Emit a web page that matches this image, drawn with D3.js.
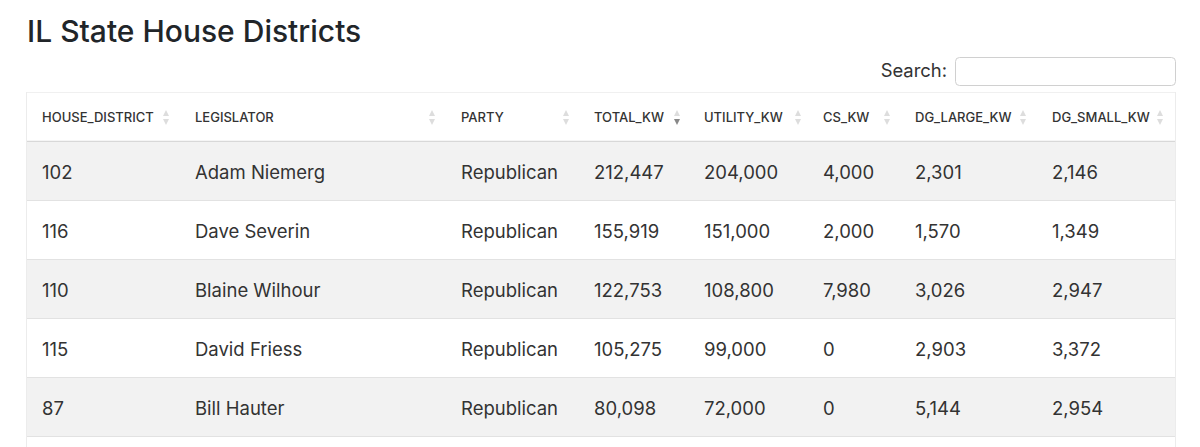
<!DOCTYPE html>
<html><head><meta charset="utf-8">
<script src="https://cdn.jsdelivr.net/npm/d3@7"></script>
<style>
html,body{margin:0;padding:0;background:#fff;}
svg{display:block;font-family:Inter,"Open Sans",sans-serif;}
</style></head>
<body>
<svg id="c" width="1200" height="447"></svg>
<script>
const columns = ["HOUSE_DISTRICT","LEGISLATOR","PARTY","TOTAL_KW","UTILITY_KW","CS_KW","DG_LARGE_KW","DG_SMALL_KW"];
const districts = [102,116,110,115,87];
const legislators = ["Adam Niemerg","Dave Severin","Blaine Wilhour","David Friess","Bill Hauter"];
const parties = ["Republican","Republican","Republican","Republican","Republican"];
const totalKW = [212447,155919,122753,105275,80098];
const utilityKW = [204000,151000,108800,99000,72000];
const csKW = [4000,2000,7980,0,0];
const dgLargeKW = [2301,1570,3026,2903,5144];
const dgSmallKW = [2146,1349,2947,3372,2954];
const sortedColumn = "TOTAL_KW";

const rows = districts.map((d,i)=>[d,legislators[i],parties[i],totalKW[i],utilityKW[i],csKW[i],dgLargeKW[i],dgSmallKW[i]]);
const fmt = d3.format(",");

// layout
const colX = [42,195,461,594,704,823,915,1052];
const iconX = [166,432,566,677,798,887,1023,1160];
const tableL = 26, tableR = 1176, headTop = 92, headBot = 142, rowH = 59;

const svg = d3.select("#c");
svg.append("text").attr("x",27).attr("y",42).attr("font-size",30).attr("font-weight",500)
  .attr("fill","#212529").text("IL State House Districts");
svg.append("text").attr("x",947).attr("y",77).attr("text-anchor","end").attr("font-size",18.4)
  .attr("fill","#333").text("Search:");
svg.append("rect").attr("x",955.5).attr("y",57.5).attr("width",220).attr("height",28).attr("rx",4)
  .attr("fill","#fff").attr("stroke","#d0d0d0");

const nRows = rows.length + 1;
const y = d3.scaleBand().domain(d3.range(nRows)).range([headBot, headBot + rowH*nRows]);
const x = d3.scaleOrdinal().domain(d3.range(columns.length)).range(colX);
const xi = d3.scaleOrdinal().domain(d3.range(columns.length)).range(iconX);

// header
svg.append("rect").attr("x",tableL).attr("y",headTop).attr("width",tableR-tableL).attr("height",headBot-headTop).attr("fill","#fff");
svg.append("line").attr("x1",tableL).attr("x2",tableR).attr("y1",headTop+0.5).attr("y2",headTop+0.5).attr("stroke","#f0f0f0");
const hg = svg.append("g");
hg.selectAll("text").data(columns).join("text")
  .attr("x",(d,i)=>x(i)).attr("y",121.5).attr("font-size",13).attr("font-weight",500)
  .attr("fill","#333").text(d=>d);
columns.forEach((c,i)=>{
  const cx = xi(i);
  const up = "#ddd";
  const dn = (c===sortedColumn) ? "#888" : "#ddd";
  hg.append("path").attr("d",`M${cx-3},${116}L${cx+3},${116}L${cx},${110}Z`).attr("fill",up);
  hg.append("path").attr("d",`M${cx-3},${119}L${cx+3},${119}L${cx},${125}Z`).attr("fill",dn);
});
svg.append("line").attr("x1",tableL).attr("x2",tableR).attr("y1",headBot-0.5).attr("y2",headBot-0.5).attr("stroke","#d8d8d8").attr("stroke-width",1.5);

// body rows
const allRows = rows.concat([null]);
const rg = svg.append("g").selectAll("g").data(allRows).join("g")
  .attr("transform",(d,i)=>`translate(0,${y(i)})`);
rg.append("rect").attr("x",tableL).attr("y",0).attr("width",tableR-tableL).attr("height",rowH)
  .attr("fill",(d,i)=> i%2===0 ? "#f2f2f2" : "#fff");
rg.append("line").attr("x1",tableL).attr("x2",tableR).attr("y1",rowH-0.5).attr("y2",rowH-0.5).attr("stroke","#e2e2e2");
rg.filter(d=>d).selectAll("text").data(d=>d).join("text")
  .attr("x",(d,i)=>x(i)).attr("y",36.5).attr("font-size",18.5).attr("fill","#333")
  .text(d=> typeof d === "number" && d>=1000 ? fmt(d) : String(d));

// side borders
svg.append("line").attr("x1",tableL+0.5).attr("x2",tableL+0.5).attr("y1",headTop).attr("y2",447).attr("stroke","#ececec");
svg.append("line").attr("x1",tableR-0.5).attr("x2",tableR-0.5).attr("y1",headTop).attr("y2",447).attr("stroke","#ececec");
</script>
</body></html>
